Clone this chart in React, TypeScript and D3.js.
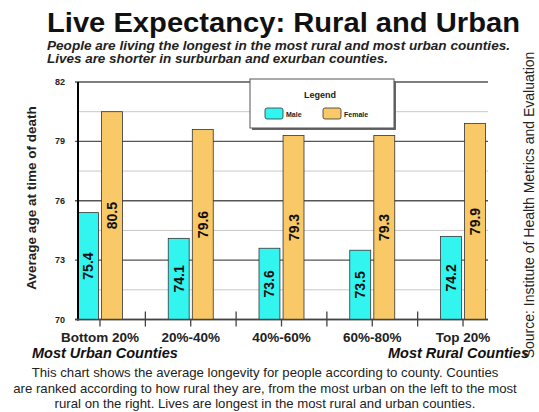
import React from "react";
import * as d3 from "d3";

const categories = ["Bottom 20%", "20%-40%", "40%-60%", "60%-80%", "Top 20%"];
const series = ["Male", "Female"];
const maleValues = [75.4, 74.1, 73.6, 73.5, 74.2];
const femaleValues = [80.5, 79.6, 79.3, 79.3, 79.9];
const majorTicks = [70, 73, 76, 79, 82];
const minorTicks = [71.5, 74.5, 77.5, 80.5];
const colors = { Male: "#33f5f0", Female: "#f9c867" };

const title = "Live Expectancy: Rural and Urban";
const subtitle = [
  "People are living the longest in the most rural and most urban counties.",
  "Lives are shorter in surburban and exurban counties.",
];
const subtitleWidths = [463, 341];
const description = [
  "This chart shows the average longevity for people according to county. Counties",
  "are ranked according to how rural they are, from the most urban on the left to the most",
  "rural on the right. Lives are longest in the most rural and urban counties.",
];
const yTitle = "Average age at time of death";
const source = "Source: Institute of Health Metrics and Evaluation";

export default function App() {
  const W = 539, H = 412;
  const plotLeft = 78, plotRight = 488, plotTop = 82, plotBottom = 319.5;
  const y = d3.scaleLinear().domain([70, 82]).range([plotBottom, plotTop]);
  const x = d3.scaleBand().domain(categories).range([54.6, 508.4]).paddingInner(0).paddingOuter(0);
  const sub = d3.scaleBand().domain(series).range([-22.5, 22.5]).paddingInner(0.13);
  const data = series.map((s) => ({ s, vals: s === "Male" ? maleValues : femaleValues }));
  const font = "'Liberation Sans', Arial, sans-serif";

  const boundaries = categories.slice(1).map((c) => x(c)!);
  const centers = categories.map((c) => x(c)! + x.bandwidth() / 2);

  return (
    <svg width={W} height={H} style={{ position: "absolute", left: 0, top: 0, background: "#fff" }} fontFamily={font}>
      <rect x={0} y={0} width={W} height={H} fill="#fff" />
      <text x={47} y={32} fontSize={27} fontWeight="bold" textLength={473} lengthAdjust="spacingAndGlyphs" fill="#111">{title}</text>
      {subtitle.map((t, i) => (
        <text key={i} x={47} y={50 + i * 13} fontSize={12} fontWeight="bold" fontStyle="italic" textLength={subtitleWidths[i]} lengthAdjust="spacingAndGlyphs" fill="#222">{t}</text>
      ))}

      {minorTicks.map((t) => (
        <line key={"mn" + t} x1={plotLeft} x2={plotRight} y1={y(t)} y2={y(t)} stroke="#c8c8c8" strokeWidth={1} />
      ))}
      {majorTicks.map((t) => (
        <line key={"mj" + t} x1={plotLeft - 3} x2={plotRight} y1={y(t)} y2={y(t)} stroke="#555" strokeWidth={1.3} />
      ))}
      {majorTicks.map((t) => (
        <text key={"yl" + t} x={65} y={y(t) + 3} fontSize={9} fontWeight="bold" textAnchor="end" fill="#222">{t}</text>
      ))}

      {data.map(({ s, vals }) =>
        categories.map((c, i) => {
          const bx = x(c)! + x.bandwidth() / 2 + sub(s)!;
          const by = y(vals[i]);
          return (
            <g key={s + c}>
              <rect x={bx} y={by} width={sub.bandwidth()} height={plotBottom - by} fill={colors[s as "Male" | "Female"]} stroke="#333" strokeWidth={0.8} />
              <text
                transform={`translate(${bx + sub.bandwidth() / 2 + 5},${(by + plotBottom) / 2}) rotate(-90)`}
                textAnchor="middle"
                fontSize={14}
                fontWeight="bold"
                fill="#111"
              >
                {vals[i].toFixed(1)}
              </text>
            </g>
          );
        })
      )}

      <line x1={plotLeft} x2={plotLeft} y1={plotTop} y2={plotBottom + 1} stroke="#000" strokeWidth={2} />
      <line x1={plotLeft - 3} x2={plotRight} y1={plotBottom} y2={plotBottom} stroke="#444" strokeWidth={1.5} />
      {boundaries.map((b, i) => (
        <line key={"b" + i} x1={b} x2={b} y1={plotBottom - 8} y2={plotBottom + 7} stroke="#444" strokeWidth={1.3} />
      ))}
      {centers.map((c, i) => (
        <line key={"c" + i} x1={c} x2={c} y1={plotBottom} y2={plotBottom + 7} stroke="#444" strokeWidth={1.3} />
      ))}
      {categories.map((c, i) => (
        <text key={"xl" + c} x={centers[i]} y={342} fontSize={13.5} fontWeight="bold" textAnchor="middle" fill="#222">{c}</text>
      ))}
      <text x={32} y={358} fontSize={14.5} fontWeight="bold" fontStyle="italic" fill="#111">Most Urban Counties</text>
      <text x={529} y={358} fontSize={14.5} fontWeight="bold" fontStyle="italic" textAnchor="end" fill="#111">Most Rural Counties</text>

      <text transform={`translate(36,198) rotate(-90)`} textAnchor="middle" fontSize={13.5} fontWeight="bold" fill="#222">{yTitle}</text>
      <text transform={`translate(534,205) rotate(-90)`} textAnchor="middle" fontSize={14} fill="#222">{source}</text>

      {description.map((t, i) => (
        <text key={"d" + i} x={265} y={377 + i * 15.5} fontSize={13.2} textAnchor="middle" fill="#222">{t}</text>
      ))}

      <g>
        <rect x={252} y={81} width={144} height={49} fill="#666" />
        <rect x={250} y={79} width={144} height={49} fill="#fff" stroke="#555" strokeWidth={1} />
        <text x={320} y={98} fontSize={9} fontWeight="bold" textAnchor="middle" fill="#222">Legend</text>
        {series.map((s, i) => (
          <g key={"lg" + s}>
            <rect x={265 + i * 58} y={108} width={18} height={11} rx={2} fill={colors[s as "Male" | "Female"]} stroke="#333" strokeWidth={0.8} />
            <text x={286 + i * 58} y={117} fontSize={7} fontWeight="bold" fill="#222">{s}</text>
          </g>
        ))}
      </g>
    </svg>
  );
}
